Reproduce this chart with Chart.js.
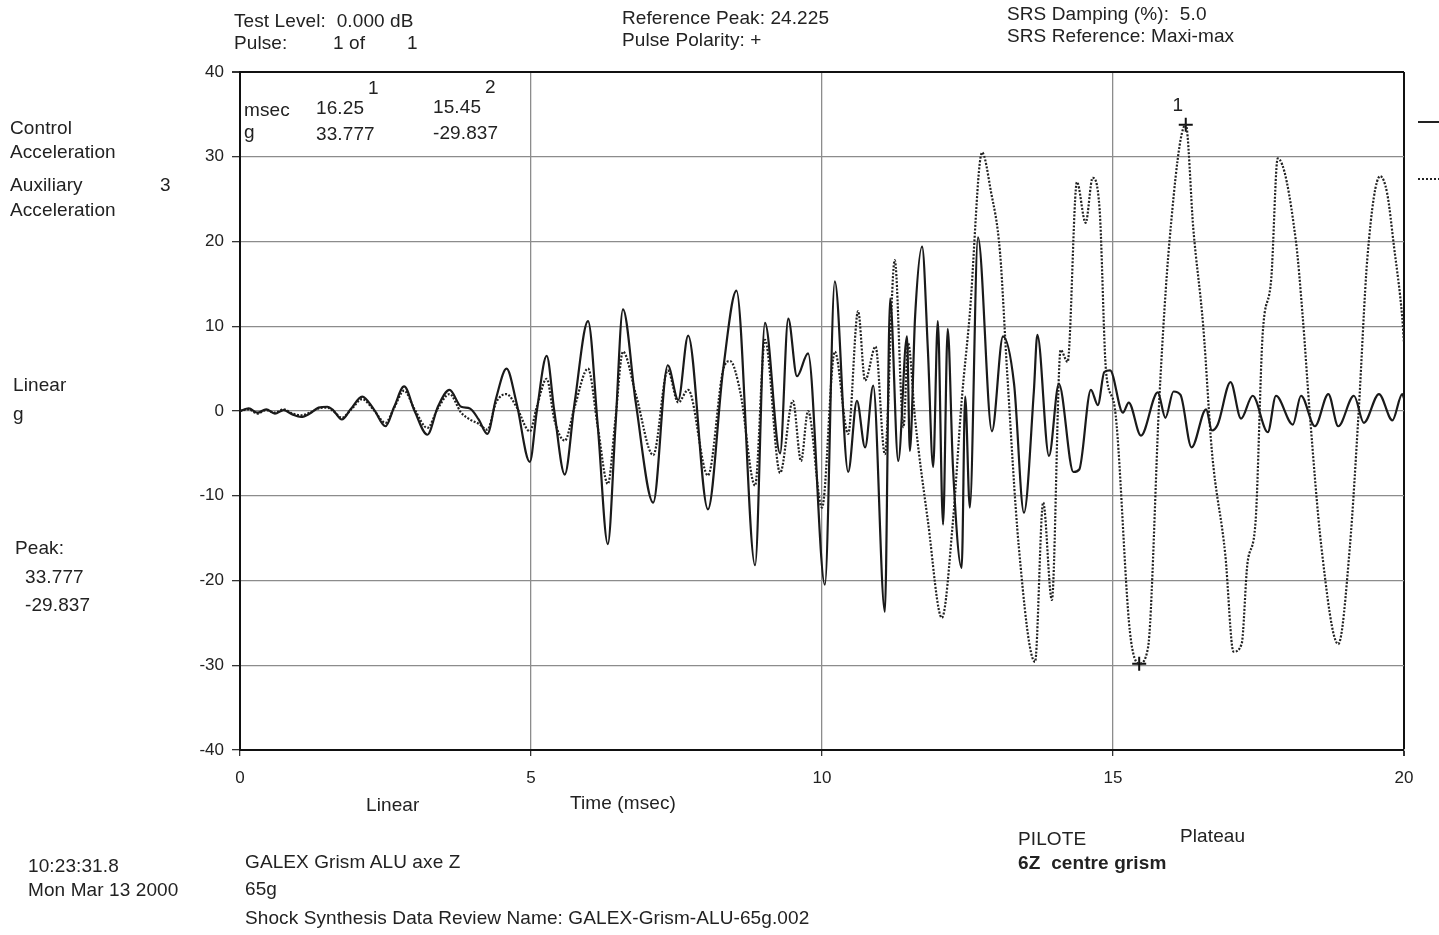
<!DOCTYPE html>
<html>
<head>
<meta charset="utf-8">
<title>Shock Synthesis Data Review</title>
<script src="https://cdn.jsdelivr.net/npm/chart.js@4.4.1/dist/chart.umd.min.js"></script>
<style>
  html, body { margin: 0; padding: 0; background: #fff; }
  #wrap { position: relative; width: 1439px; height: 935px; overflow: hidden; }
  #plot { position: absolute; left: 0; top: 0; }
  .t { position: absolute; font-family: "Liberation Sans", Arial, sans-serif; font-size: 19px;
       line-height: 20px; color: #222; white-space: pre; letter-spacing: 0.1px; }
  .b { font-weight: bold; }
  .leg { position: absolute; width: 22px; height: 0; }
</style>
</head>
<body>
<div id="wrap">
  <canvas id="plot" width="1439" height="935"></canvas>

  <!-- header -->
  <div class="t" style="left:234px;top:11px">Test Level:  0.000 dB</div>
  <div class="t" style="left:234px;top:33px">Pulse:</div>
  <div class="t" style="left:333px;top:33px">1 of</div>
  <div class="t" style="left:407px;top:33px">1</div>
  <div class="t" style="left:622px;top:8px">Reference Peak: 24.225</div>
  <div class="t" style="left:622px;top:30px">Pulse Polarity: +</div>
  <div class="t" style="left:1007px;top:4px">SRS Damping (%):  5.0</div>
  <div class="t" style="left:1007px;top:26px">SRS Reference: Maxi-max</div>

  <!-- left side labels -->
  <div class="t" style="left:10px;top:118px">Control</div>
  <div class="t" style="left:10px;top:142px">Acceleration</div>
  <div class="t" style="left:10px;top:175px">Auxiliary</div>
  <div class="t" style="left:160px;top:175px">3</div>
  <div class="t" style="left:10px;top:200px">Acceleration</div>
  <div class="t" style="left:13px;top:375px">Linear</div>
  <div class="t" style="left:13px;top:404px">g</div>
  <div class="t" style="left:15px;top:538px">Peak:</div>
  <div class="t" style="left:25px;top:567px">33.777</div>
  <div class="t" style="left:25px;top:595px">-29.837</div>

  <!-- cursor readout -->
  <div class="t" style="left:368px;top:78px">1</div>
  <div class="t" style="left:485px;top:77px">2</div>
  <div class="t" style="left:244px;top:100px">msec</div>
  <div class="t" style="left:316px;top:98px">16.25</div>
  <div class="t" style="left:433px;top:97px">15.45</div>
  <div class="t" style="left:244px;top:122px">g</div>
  <div class="t" style="left:316px;top:124px">33.777</div>
  <div class="t" style="left:433px;top:123px">-29.837</div>

  <!-- legend lines -->
  <div class="leg" style="left:1418px;top:121px;border-top:2px solid #222"></div>
  <div class="leg" style="left:1418px;top:178px;border-top:2px dotted #222"></div>

  <!-- footer -->
  <div class="t" style="left:366px;top:795px">Linear</div>
  <div class="t" style="left:570px;top:793px">Time (msec)</div>
  <div class="t" style="left:1018px;top:829px">PILOTE</div>
  <div class="t" style="left:1180px;top:826px">Plateau</div>
  <div class="t b" style="left:1018px;top:853px">6Z  centre grism</div>
  <div class="t" style="left:28px;top:856px">10:23:31.8</div>
  <div class="t" style="left:28px;top:880px">Mon Mar 13 2000</div>
  <div class="t" style="left:245px;top:852px">GALEX Grism ALU axe Z</div>
  <div class="t" style="left:245px;top:879px">65g</div>
  <div class="t" style="left:245px;top:908px">Shock Synthesis Data Review Name: GALEX-Grism-ALU-65g.002</div>
</div>

<script>
// ---- data (time in msec, acceleration in g) ----
const xTicks = [0, 5, 10, 15, 20];
const yTicks = [-40, -30, -20, -10, 0, 10, 20, 30, 40];

// Control acceleration (solid)
const ctlTime = [0.00, 0.15, 0.30, 0.45, 0.60, 0.75, 0.90, 1.05, 1.20, 1.35, 1.50, 1.60, 1.75, 1.90, 2.10,
  2.30, 2.50, 2.65, 2.82, 3.00, 3.22, 3.40, 3.60, 3.80, 3.95, 4.10, 4.25, 4.40, 4.58, 4.75, 4.98, 5.10,
  5.27, 5.40, 5.58, 5.75, 5.98, 6.15, 6.32, 6.45, 6.58, 6.80, 7.10, 7.35, 7.53, 7.70, 8.04, 8.30, 8.53,
  8.85, 9.02, 9.28, 9.42, 9.57, 9.76, 10.05, 10.22, 10.45, 10.60, 10.74, 10.88, 11.08, 11.17, 11.31,
  11.46, 11.51, 11.60, 11.72, 11.82, 11.91, 11.99, 12.08, 12.16, 12.25, 12.40, 12.46, 12.54, 12.68,
  12.92, 13.11, 13.30, 13.47, 13.64, 13.70, 13.90, 14.07, 14.32, 14.42, 14.62, 14.74, 14.85, 14.95,
  15.17, 15.27, 15.48, 15.77, 15.90, 16.04, 16.16, 16.35, 16.60, 16.70, 16.80, 17.02, 17.20, 17.40,
  17.66, 17.80, 18.09, 18.23, 18.47, 18.70, 18.87, 19.14, 19.31, 19.57, 19.80, 19.97, 20.00];
const ctlG = [0.0, 0.3, -0.2, 0.2, -0.3, 0.1, -0.4, -0.7, -0.3, 0.4, 0.5, 0.1, -1.0, 0.2, 1.7,
  0.2, -1.8, 0.5, 2.9, 0.0, -2.8, 0.5, 2.5, 0.5, 0.3, -1.0, -2.7, 1.5, 5.0, 1.0, -6.0, 0.0,
  6.5, 0.0, -7.5, 1.0, 10.6, -2.0, -15.7, -2.0, 12.0, 1.0, -10.8, 5.4, 1.3, 8.9, -11.6, 4.8, 14.2,
  -18.2, 10.4, -5.0, 10.9, 4.1, 6.8, -20.5, 15.3, -7.2, 1.2, -4.3, 3.0, -23.7, 13.3, -5.9,
  8.8, -4.7, 11.2, 19.4, 7.1, -6.6, 10.6, -13.4, 9.7, -6.6, -18.5, 1.7, -11.4, 20.5,
  -2.4, 8.8, 3.2, -12.0, 2.3, 9.0, -5.3, 3.2, -7.2, -6.9, 2.5, 0.7, 4.6, 4.8,
  -0.2, 1.0, -2.9, 2.2, -0.8, 2.3, 1.9, -4.3, 0.2, -2.3, -1.6, 3.4, -0.9, 1.8,
  -2.5, 1.8, -1.6, 1.8, -1.8, 2.0, -1.8, 1.8, -1.4, 2.0, -1.1, 2.0, 1.5];

// Auxiliary acceleration (dotted)
const auxTime = [0.00, 0.15, 0.30, 0.45, 0.60, 0.75, 0.90, 1.05, 1.20, 1.35, 1.50, 1.60, 1.75, 1.90, 2.10,
  2.30, 2.50, 2.65, 2.82, 3.00, 3.22, 3.40, 3.60, 3.80, 3.95, 4.10, 4.25, 4.40, 4.58, 4.75, 4.98, 5.10,
  5.27, 5.40, 5.58, 5.75, 5.98, 6.15, 6.32, 6.45, 6.58, 6.80, 7.10, 7.35, 7.53, 7.70, 8.04, 8.30, 8.42,
  8.60, 8.85, 9.02, 9.28, 9.50, 9.64, 9.76, 10.00, 10.22, 10.45, 10.62, 10.74, 10.92, 11.08, 11.25,
  11.40, 11.48, 11.60, 11.82, 12.06, 12.25, 12.40, 12.54, 12.75, 12.90, 13.06, 13.18, 13.38, 13.66,
  13.80, 13.95, 14.10, 14.22, 14.38, 14.53, 14.65, 14.77, 14.88, 15.03, 15.29, 15.45, 15.60, 15.80,
  15.97, 16.25, 16.38, 16.55, 16.70, 16.93, 17.07, 17.21, 17.31, 17.45, 17.57, 17.72, 17.83, 18.14,
  18.26, 18.38, 18.58, 18.87, 19.07, 19.22, 19.37, 19.59, 19.71, 19.83, 19.97, 20.00];
const auxG = [0.0, 0.2, -0.3, 0.1, -0.2, 0.2, -0.3, -0.5, -0.2, 0.3, 0.4, 0.0, -0.8, 0.1, 1.4,
  0.1, -1.4, 0.4, 2.4, 0.2, -2.0, 0.3, 2.0, -0.2, -1.0, -1.5, -2.2, 1.0, 2.0, 0.5, -2.4, 0.5,
  3.8, -1.0, -3.5, 0.5, 5.0, -2.0, -8.6, -1.0, 7.0, 2.0, -5.2, 4.8, 1.0, 2.5, -7.6, 4.8, 5.9,
  2.1, -8.8, 8.4, -7.3, 1.2, -5.9, 0.0, -11.4, 7.0, -2.7, 11.8, 3.6, 7.6, -5.1, 17.8,
  -1.9, 8.0, -1.0, -13.0, -24.4, -13.0, 1.2, 11.5, 30.5, 26.0, 18.6, 4.7, -15.9, -29.6,
  -10.8, -22.3, 7.2, 5.8, 27.0, 22.2, 27.5, 23.8, 4.7, 0.4, -26.0, -29.8, -28.0, 2.0,
  20.0, 33.8, 21.5, 10.0, -4.8, -17.0, -28.4, -27.5, -18.0, -13.0, 8.9, 15.7, 29.8, 20.2,
  11.1, -0.2, -16.0, -27.5, -16.0, -0.2, 18.0, 27.7, 25.7, 19.3, 11.0, 8.0];

// Cursor markers
const cursorLabels = ['1', '2'];
const cursorTime = [16.25, 15.45];
const cursorG = [33.777, -29.837];

const toPoints = (xs, ys) => xs.map((x, i) => ({ x: x, y: ys[i] }));

// small label above cursor 1
const cursorText = {
  id: 'cursorText',
  afterDatasetsDraw(chart) {
    const { ctx, scales } = chart;
    ctx.save();
    ctx.font = '19px "Liberation Sans", Arial, sans-serif';
    ctx.fillStyle = '#222';
    ctx.textAlign = 'center';
    const px = scales.x.getPixelForValue(cursorTime[0]);
    const py = scales.y.getPixelForValue(cursorG[0]);
    ctx.fillText(cursorLabels[0], px - 8, py - 14);
    ctx.restore();
  }
};

const frameColor = '#111';
const gridColor = '#8c8c8c';

new Chart(document.getElementById('plot'), {
  type: 'line',
  data: {
    datasets: [
      {
        label: 'Control Acceleration',
        data: toPoints(ctlTime, ctlG),
        borderColor: '#1a1a1a',
        borderWidth: 2.2,
        pointRadius: 0,
        cubicInterpolationMode: 'monotone'
      },
      {
        label: 'Auxiliary Acceleration',
        data: toPoints(auxTime, auxG),
        borderColor: '#222',
        borderWidth: 2.2,
        borderDash: [2, 1.6],
        pointRadius: 0,
        cubicInterpolationMode: 'monotone'
      },
      {
        label: 'Cursors',
        type: 'scatter',
        data: toPoints(cursorTime, cursorG),
        pointStyle: 'cross',
        pointRadius: 7,
        borderColor: '#111',
        borderWidth: 2,
        showLine: false
      }
    ]
  },
  options: {
    responsive: false,
    animation: false,
    devicePixelRatio: 1,
    layout: { padding: { left: 0, right: 35, top: 72, bottom: 0 } },
    plugins: {
      legend: { display: false },
      tooltip: { enabled: false }
    },
    scales: {
      x: {
        type: 'linear',
        min: 0,
        max: 20,
        afterBuildTicks: (s) => { s.ticks = xTicks.map(v => ({ value: v })); },
        afterFit: (s) => { s.height = 185; },
        border: { color: frameColor, width: 2 },
        grid: {
          color: (c) => (c.tick && c.tick.value === 20 ? frameColor : gridColor),
          lineWidth: (c) => (c.tick && c.tick.value === 20 ? 2 : 1.3),
          tickLength: 6,
          tickColor: '#333'
        },
        ticks: {
          color: '#222',
          padding: 12,
          maxRotation: 0,
          font: { family: '"Liberation Sans", Arial, sans-serif', size: 17 }
        }
      },
      y: {
        type: 'linear',
        min: -40,
        max: 40,
        afterBuildTicks: (s) => { s.ticks = yTicks.map(v => ({ value: v })); },
        afterFit: (s) => { s.width = 240; },
        border: { color: frameColor, width: 2 },
        grid: {
          color: (c) => (c.tick && c.tick.value === 40 ? frameColor : gridColor),
          lineWidth: (c) => (c.tick && c.tick.value === 40 ? 2 : 1.3),
          tickLength: 8,
          tickColor: '#333'
        },
        ticks: {
          color: '#222',
          padding: 8,
          font: { family: '"Liberation Sans", Arial, sans-serif', size: 17 }
        }
      }
    }
  },
  plugins: [cursorText]
});
</script>
</body>
</html>
